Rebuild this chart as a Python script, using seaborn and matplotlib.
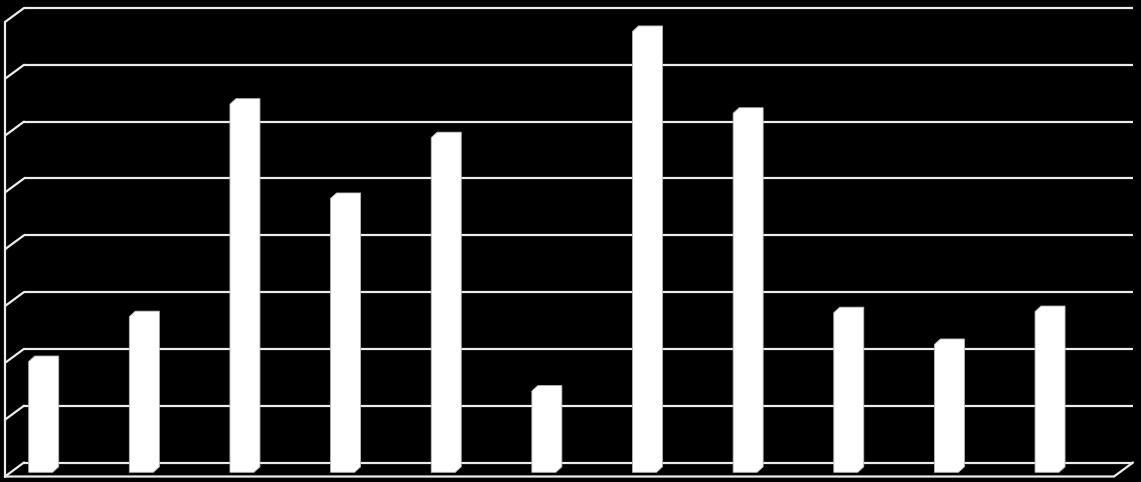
import matplotlib
matplotlib.use("Agg")
import matplotlib.pyplot as plt
import seaborn as sns
from matplotlib.patches import Polygon

# chart data (no labels are shown in the picture)
categories = ["1", "2", "3", "4", "5", "6", "7", "8", "9", "10", "11"]
values = [19.5, 27.4, 64.8, 48.2, 58.9, 14.3, 77.6, 63.2, 28.1, 22.5, 28.3]
grid_levels = [0, 10, 20, 30, 40, 50, 60, 70, 80]

# layout in pixels of the 1141x482 image
W, H = 1141, 482
WALL_L, WALL_R, WALL_T, WALL_B = 24, 1133, 8, 462.5
XLIM = (-0.303, 10.717)
YLIM = (0, 80)

sx = (WALL_R - WALL_L) / (XLIM[1] - XLIM[0])
sy = (WALL_B - WALL_T) / (YLIM[1] - YLIM[0])


def px(dx, dy):
    # pixel offset (dy positive = down) -> data offset
    return dx / sx, -dy / sy


floor_dx, floor_dy = px(-19, 14)
bar_dx, bar_dy = px(-13.8, 9.8)
depth_dx, depth_dy = px(6, -5.5)
bar_w = 24 / sx

LINE_C = "#ececec"

sns.set_style("white")
fig = plt.figure(figsize=(W / 100, H / 100), dpi=100, facecolor="black")
ax = fig.add_axes([WALL_L / W, (H - WALL_B) / H, (WALL_R - WALL_L) / W, (WALL_B - WALL_T) / H])
ax.set_facecolor("black")

sns.barplot(x=categories, y=values, color="white", width=bar_w, ax=ax, zorder=3)

ax.set_xlim(*XLIM)
ax.set_ylim(*YLIM)
ax.axis("off")

# back wall gridlines + left wall connectors
for g in grid_levels:
    ax.plot([XLIM[0], XLIM[1]], [g, g], color=LINE_C, lw=1.6, zorder=1, clip_on=False,
            solid_capstyle="butt")
    ax.plot([XLIM[0], XLIM[0] + floor_dx], [g, g + floor_dy], color=LINE_C, lw=1.6,
            zorder=1, clip_on=False)

# front left edge and floor front edge
ax.plot([XLIM[0] + floor_dx, XLIM[0] + floor_dx], [floor_dy, YLIM[1] + floor_dy],
        color=LINE_C, lw=1.6, zorder=1, clip_on=False)
ax.plot([XLIM[0] + floor_dx, XLIM[1] + floor_dx, XLIM[1]], [floor_dy, floor_dy, 0],
        color=LINE_C, lw=1.6, zorder=1, clip_on=False)

# turn the flat bars into little 3d boxes
for p in list(ax.patches):
    x0 = p.get_x() + p.get_width() / 2 - bar_w / 2 + bar_dx
    h = p.get_height()
    yb = bar_dy
    yt = bar_dy + h
    verts = [(x0, yb), (x0, yt), (x0 + depth_dx, yt + depth_dy),
             (x0 + bar_w + depth_dx, yt + depth_dy), (x0 + bar_w + depth_dx, yb + depth_dy),
             (x0 + bar_w, yb)]
    ax.add_patch(Polygon(verts, closed=True, facecolor="white", edgecolor="#b8b8b8",
                         lw=0.6, zorder=3, clip_on=False))
    p.set_visible(False)

fig.savefig("out.png", dpi=100, facecolor="black")
